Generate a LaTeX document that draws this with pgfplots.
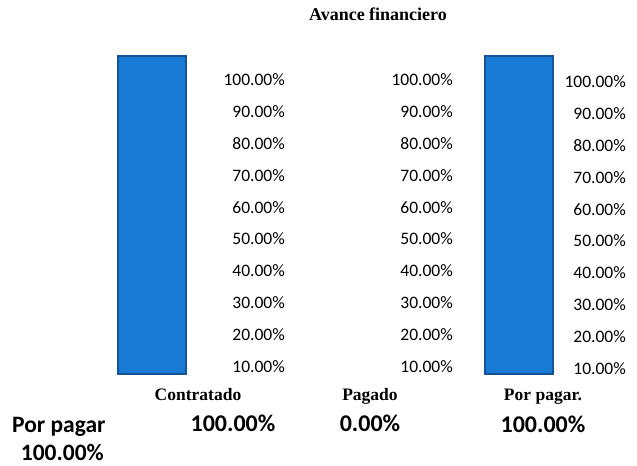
\documentclass[border=0pt]{standalone}
\usepackage{fontspec}
\setmainfont{Carlito}
\newfontfamily\capfont{Liberation Serif}
\usepackage{pgfplots}
\pgfplotsset{compat=1.18}
\definecolor{barblue}{RGB}{24,122,212}
\definecolor{baredge}{RGB}{22,84,150}

\pgfplotsset{
  panel/.style={
    scale only axis, height=318bp, ymin=0, ymax=100,
    axis line style={draw=none}, major tick length=0pt,
    ytick={10,20,...,100}, yticklabel pos=right,
    /pgf/number format/assume math mode=true,
    yticklabel={\pgfmathprintnumber[fixed,fixed zerofill,precision=2]{\tick}\%},
    yticklabel style={anchor=east, inner sep=0pt, font=\fontsize{17.5bp}{21bp}\selectfont, yshift=-24bp},
    xticklabel style={anchor=base, inner sep=0pt, yshift=-26bp, font=\capfont\bfseries\fontsize{17.5bp}{21bp}\selectfont},
    clip=false, ybar, bar width=68,
  },
}
\tikzset{bigval/.style={anchor=base, inner sep=0pt, font=\bfseries\fontsize{24bp}{29bp}\selectfont}}

\begin{document}
\begin{tikzpicture}
\useasboundingbox (0,0) rectangle (637bp,-466bp);

\node[anchor=base, inner sep=0pt, font=\capfont\bfseries\fontsize{18bp}{21bp}\selectfont] at (378bp,-20bp) {Avance financiero};

% Contratado
\begin{axis}[panel, at={(118bp,-374bp)}, anchor=south west,
  xmin=118, xmax=285, width=167bp,
  xtick={198}, xticklabels={Contratado}]
  \addplot[fill=barblue, draw=baredge, line width=1.2pt] coordinates {(152,100)};
\end{axis}

% Pagado
\begin{axis}[panel, at={(300bp,-374bp)}, anchor=south west,
  xmin=300, xmax=453, width=153bp,
  xtick={370}, xticklabels={Pagado}]
  \addplot[fill=none, draw=none] coordinates {(340,0)};
\end{axis}

% Por pagar
\begin{axis}[panel, at={(485bp,-374bp)}, anchor=south west,
  xmin=485, xmax=626, width=141bp,
  yticklabel style={yshift=-2bp},
  xtick={543}, xticklabels={Por pagar.}]
  \addplot[fill=barblue, draw=baredge, line width=1.2pt] coordinates {(519,100)};
\end{axis}

\node[bigval] at (233bp,-431bp) {100.00\%};
\node[bigval] at (370bp,-431bp) {0.00\%};
\node[bigval] at (543bp,-432bp) {100.00\%};
\node[bigval, anchor=base west, font=\bfseries\fontsize{23.5bp}{28bp}\selectfont] at (12bp,-432bp) {Por pagar};
\node[bigval, anchor=base east, font=\bfseries\fontsize{23.5bp}{28bp}\selectfont] at (104bp,-460bp) {100.00\%};
\end{tikzpicture}
\end{document}
